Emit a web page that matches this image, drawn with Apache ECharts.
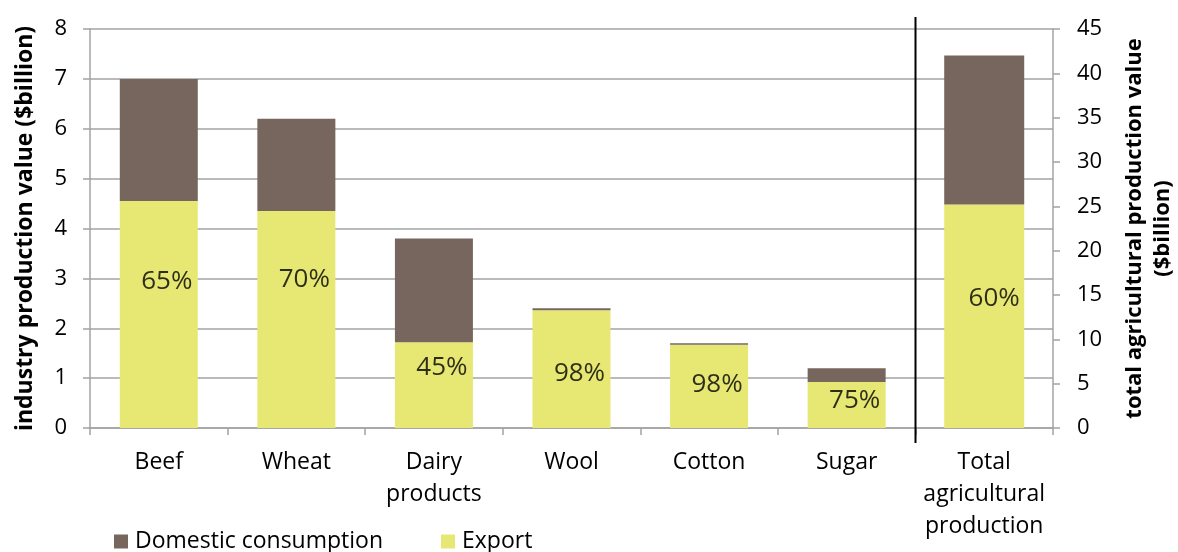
<!DOCTYPE html>
<html>
<head>
<meta charset="utf-8">
<script src="https://cdn.jsdelivr.net/npm/echarts@6/dist/echarts.min.js"></script>
<style>html,body{margin:0;padding:0;background:#fff;overflow:hidden;}#c{width:1178px;height:552px;}</style>
</head>
<body>
<div id="c"></div>
<script>
const categories = ['Beef', 'Wheat', 'Dairy\nproducts', 'Wool', 'Cotton', 'Sugar', 'Total\nagricultural\nproduction'];
const exportVals = [4.55, 4.35, 1.72, 2.36, 1.67, 0.92, null];
const domesticVals = [2.45, 1.85, 2.08, 0.04, 0.03, 0.28, null];
const totalExport = [null, null, null, null, null, null, 25.2];
const totalDomestic = [null, null, null, null, null, null, 16.8];
const pctLabels = ['65%', '70%', '45%', '98%', '98%', '75%'];
const pctLabelY = [2.93, 2.97, 1.21, 1.09, 0.88, 0.54, null];
const totalPctLabel = '60%';
const totalPctLabelY = [null, null, null, null, null, null, 14.6];
const leftTicks = { min: 0, max: 8, interval: 1 };
const rightTicks = { min: 0, max: 45, interval: 5 };

const FONT = 'Open Sans';
const BROWN = '#76665e';
const YELLOW = '#e7e774';
const GRAY = '#a3a3a3';

const chart = echarts.init(document.getElementById('c'), null, { renderer: 'canvas', width: 1178, height: 552 });
const option = {
  animation: false,
  textStyle: { fontFamily: FONT },
  grid: { left: 90, right: 125, top: 29, bottom: 124, containLabel: false, outerBoundsMode: 'none' },
  legend: {
    left: 109, top: 525, itemWidth: 14, itemHeight: 14, itemGap: 58,
    icon: 'rect',
    textStyle: { fontFamily: FONT, fontSize: 23, color: '#000', padding: [0, 0, 0, 2] },
    data: ['Domestic consumption', 'Export']
  },
  xAxis: [{
    type: 'category', data: categories, position: 'bottom',
    axisLine: { show: true, lineStyle: { color: GRAY, width: 1.5 } },
    axisTick: { show: true, length: 7, lineStyle: { color: GRAY, width: 1.5 } },
    axisLabel: { fontFamily: FONT, fontSize: 23, color: '#000', lineHeight: 32, margin: 18, interval: 0 },
    splitLine: { show: false }
  }, {
    type: 'category', data: categories, show: false
  }],
  yAxis: [{
    type: 'value', min: leftTicks.min, max: leftTicks.max, interval: leftTicks.interval, position: 'left',
    name: 'industry production value ($billion)', nameLocation: 'middle', nameGap: 53, nameRotate: 90,
    nameTextStyle: { fontFamily: FONT, fontSize: 23, fontWeight: 'bold', color: '#000' },
    axisLine: { show: true, lineStyle: { color: GRAY, width: 1.5 } },
    axisTick: { show: true, length: 7, lineStyle: { color: GRAY, width: 1.5 } },
    axisLabel: { fontFamily: FONT, fontSize: 22, color: '#000', margin: 23 },
    splitLine: { show: true, lineStyle: { color: GRAY, width: 1.5 } }
  }, {
    type: 'value', min: rightTicks.min, max: rightTicks.max, interval: rightTicks.interval, position: 'right',
    name: 'total agricultural production value\n($billion)', nameLocation: 'middle', nameGap: 68, nameRotate: 90,
    nameTextStyle: { fontFamily: FONT, fontSize: 22, fontWeight: 'bold', color: '#000', lineHeight: 28 },
    axisLine: { show: true, lineStyle: { color: GRAY, width: 1.5 } },
    axisTick: { show: true, length: 7, lineStyle: { color: GRAY, width: 1.5 } },
    axisLabel: { fontFamily: FONT, fontSize: 22, color: '#000', margin: 24 },
    splitLine: { show: false }
  }],
  series: [
    { name: 'Export', type: 'bar', stack: 'ind', xAxisIndex: 0, yAxisIndex: 0, data: exportVals,
      barWidth: 78, itemStyle: { color: YELLOW } },
    { name: 'Domestic consumption', type: 'bar', stack: 'ind', xAxisIndex: 0, yAxisIndex: 0, data: domesticVals,
      barWidth: 78, itemStyle: { color: BROWN } },
    { name: 'Export', type: 'bar', stack: 'tot', xAxisIndex: 1, yAxisIndex: 1, data: totalExport,
      barWidth: 80, itemStyle: { color: YELLOW } },
    { name: 'Domestic consumption', type: 'bar', stack: 'tot', xAxisIndex: 1, yAxisIndex: 1, data: totalDomestic,
      barWidth: 80, itemStyle: { color: BROWN } },
    { type: 'scatter', xAxisIndex: 0, yAxisIndex: 0, symbolSize: 0, silent: true,
      data: pctLabelY.map((v, i) => v == null ? null : { value: v, label: { formatter: pctLabels[i] } }),
      label: { show: true, position: 'inside', offset: [8, 0], fontFamily: FONT, fontSize: 26, color: '#000' } },
    { type: 'scatter', xAxisIndex: 1, yAxisIndex: 1, symbolSize: 0, silent: true,
      data: totalPctLabelY.map(v => v == null ? null : { value: v, label: { formatter: totalPctLabel } }),
      label: { show: true, position: 'inside', offset: [10, 0], fontFamily: FONT, fontSize: 26, color: '#000' } }
  ]
};
chart.setOption(option);

// Vertical separator between Sugar and Total, located through the category scale
const xa = chart.convertToPixel({ xAxisIndex: 0 }, 5);
const xb = chart.convertToPixel({ xAxisIndex: 0 }, 6);
const yTop = chart.convertToPixel({ yAxisIndex: 0 }, leftTicks.max);
const yBot = chart.convertToPixel({ yAxisIndex: 0 }, leftTicks.min);
const xs = Math.round((xa + xb) / 2) + 0.5;
chart.setOption({
  graphic: [{
    type: 'line', silent: true, z: 100,
    shape: { x1: xs, y1: yTop - 12, x2: xs, y2: yBot + 15 },
    style: { stroke: '#000', lineWidth: 2 }
  }]
});
</script>
</body>
</html>
